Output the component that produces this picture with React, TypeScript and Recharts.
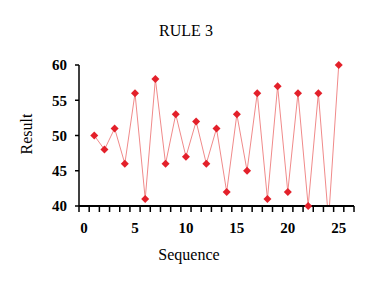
import { LineChart, Line, XAxis, YAxis, ReferenceLine } from 'recharts';

const SEQUENCE = [1, 2, 3, 4, 5, 6, 7, 8, 9, 10, 11, 12, 13, 14, 15, 16, 17, 18, 19, 20, 21, 22, 23, 24, 25];
const RESULT = [50, 48, 51, 46, 56, 41, 58, 46, 53, 47, 52, 46, 51, 42, 53, 45, 56, 41, 57, 42, 56, 40, 56, 38, 60];

const X_DOMAIN = [-0.5, 26.5];
const X_LABELS = [0, 5, 10, 15, 20, 25];
// tick marks sit between the sequence numbers
const X_MINOR_TICKS = [
  -0.5, 0.5, 1.5, 2.5, 3.5, 4.5, 5.5, 6.5, 7.5, 8.5, 9.5, 10.5, 11.5, 12.5,
  13.5, 14.5, 15.5, 16.5, 17.5, 18.5, 19.5, 20.5, 21.5, 22.5, 23.5, 24.5, 25.5, 26.5,
];
const Y_TICKS = [40, 45, 50, 55, 60];
const Y_MIN = 40;
const Y_MAX = 60;

// markers only for points inside the plotted range (point 24 falls below the axis)
const data = SEQUENCE.map((x, i) => ({
  x,
  y: RESULT[i],
  mark: RESULT[i] >= Y_MIN && RESULT[i] <= Y_MAX ? RESULT[i] : null,
}));

const FONT = 'Liberation Serif';
const TICK_SIZE = 6;
const TICK_MARGIN = 10;

function Diamond(props: any) {
  const { cx, cy, value } = props;
  if (cx == null || cy == null || value == null) return null;
  const r = 4;
  return (
    <polygon
      points={`${cx},${cy - r} ${cx + r},${cy} ${cx},${cy + r} ${cx - r},${cy}`}
      fill="#e3202a"
    />
  );
}

// labels go half a unit right of the minor tick before them
function XTick(props: any) {
  const { x, y, payload, width } = props;
  const label = payload.value + 0.5;
  if (!X_LABELS.includes(label)) return null;
  const half = width / (X_DOMAIN[1] - X_DOMAIN[0]) / 2;
  return (
    <text x={x + half} y={y} dy="0.71em" textAnchor="middle" style={{ fontFamily: FONT, fontWeight: 'bold', fontSize: 15 }} fill="#000">
      {label}
    </text>
  );
}

function YTick(props: any) {
  const { x, y, payload } = props;
  return (
    <text x={x} y={y} dy="0.355em" textAnchor="end" style={{ fontFamily: FONT, fontWeight: 'bold', fontSize: 15 }} fill="#000">
      {payload.value}
    </text>
  );
}

const labelStyle = {
  position: 'absolute' as const,
  fontSize: 16,
  color: '#000',
  whiteSpace: 'nowrap' as const,
  lineHeight: '18px',
};

export default function App() {
  return (
    <div style={{ position: 'absolute', left: 0, top: 0, width: 389, height: 281, fontFamily: FONT }}>
      <div style={{ position: 'absolute', left: 0, width: 372, top: 22, textAlign: 'center', fontSize: 16, color: '#000' }}>
        RULE 3
      </div>
      <LineChart width={389} height={281} data={data} margin={{ top: 65, right: 35, left: 0, bottom: 35 }}>
        <XAxis
          type="number"
          dataKey="x"
          domain={X_DOMAIN}
          ticks={X_MINOR_TICKS}
          interval={0}
          tick={<XTick />}
          tickSize={TICK_SIZE}
          tickMargin={TICK_MARGIN}
          height={40}
          stroke="#000"
          axisLine={{ stroke: '#000', strokeWidth: 2 }}
          tickLine={{ stroke: '#000', strokeWidth: 1.5 }}
        />
        <YAxis
          yAxisId="main"
          type="number"
          domain={[Y_MIN, Y_MAX]}
          ticks={Y_TICKS}
          width={79}
          tickSize={4}
          tickMargin={8}
          tick={<YTick />}
          stroke="#000"
          axisLine={{ stroke: '#000', strokeWidth: 1.5 }}
          tickLine={{ stroke: '#000', strokeWidth: 1.5 }}
          allowDataOverflow
        />
        <YAxis yAxisId="marks" type="number" domain={[Y_MIN, Y_MAX]} hide />
        <ReferenceLine yAxisId="main" y={Y_MIN} stroke="#000" strokeWidth={2} ifOverflow="visible" />
        <Line
          yAxisId="main"
          type="linear"
          dataKey="y"
          stroke="#f08a8a"
          strokeWidth={1}
          dot={false}
          activeDot={false}
          isAnimationActive={false}
        />
        <Line
          yAxisId="marks"
          type="linear"
          dataKey="mark"
          stroke="none"
          dot={<Diamond />}
          activeDot={false}
          legendType="none"
          isAnimationActive={false}
        />
      </LineChart>
      <div style={{ ...labelStyle, left: 189, top: 255, transform: 'translate(-50%, -50%)' }}>Sequence</div>
      <div style={{ ...labelStyle, left: 27, top: 134, transform: 'translate(-50%, -50%) rotate(-90deg)' }}>Result</div>
    </div>
  );
}
